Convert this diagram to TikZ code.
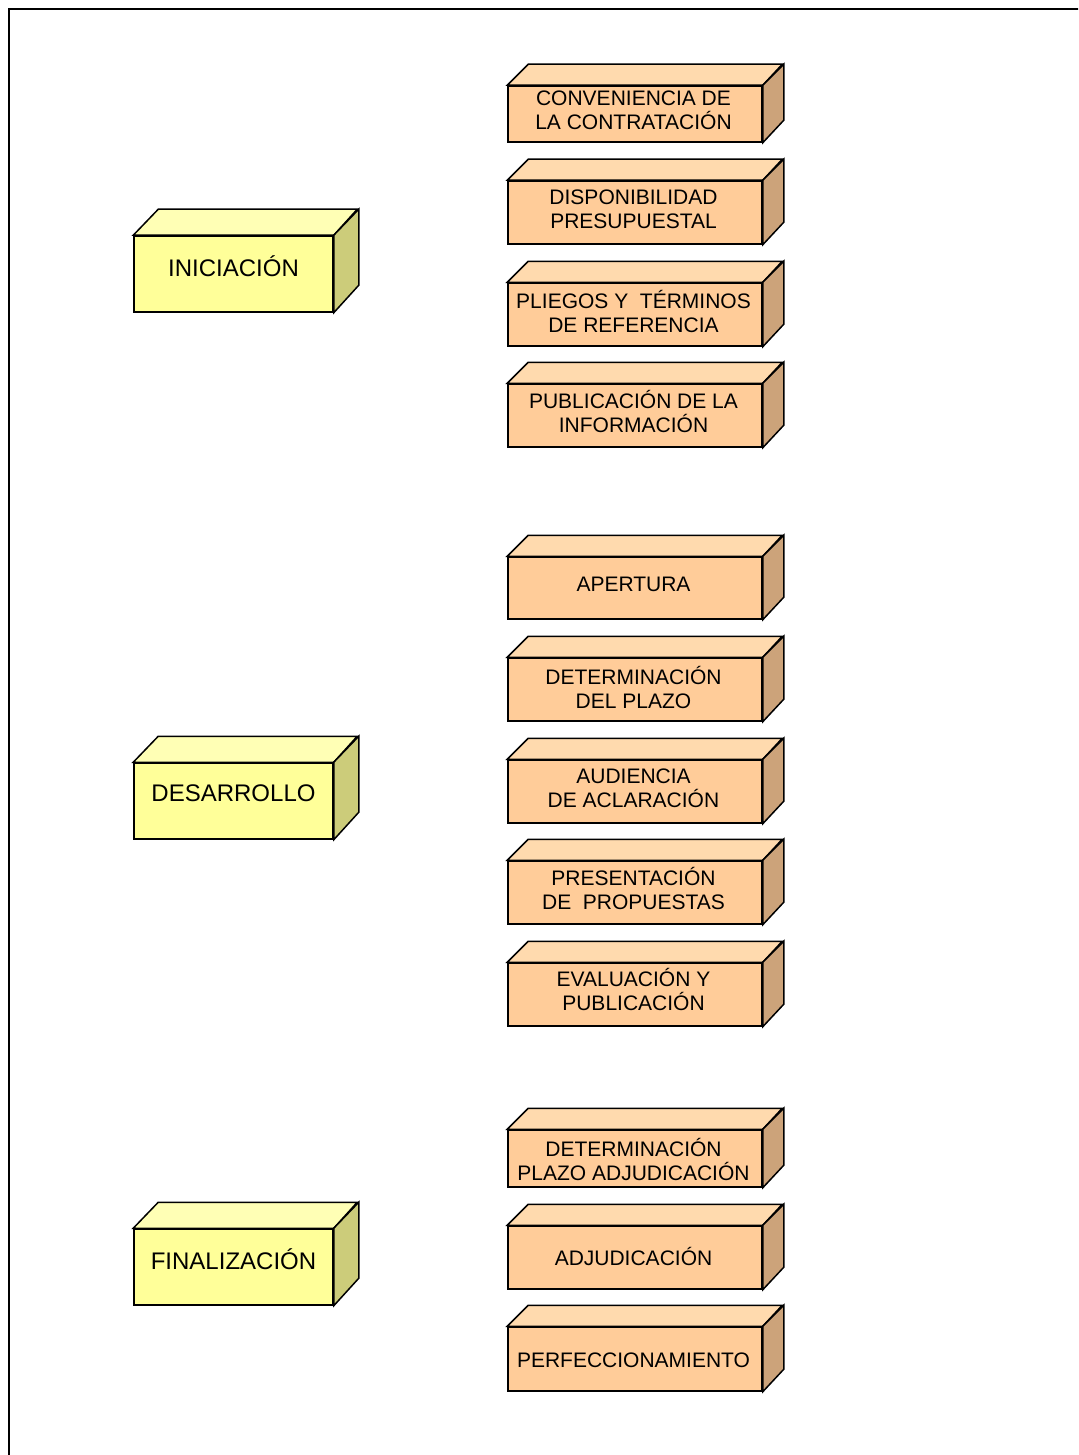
\documentclass[tikz,border=0pt]{standalone}
\usepackage{fontspec}
\setmainfont{Liberation Sans}
\definecolor{ofr}{HTML}{FFCC99}
\definecolor{otp}{HTML}{FFDAAE}
\definecolor{osd}{HTML}{CCA37A}
\definecolor{yfr}{HTML}{FFFF99}
\definecolor{ytp}{HTML}{FFFFB5}
\definecolor{ysd}{HTML}{CCCC7A}
\tikzset{
  x=1pt, y=-1pt,
  face/.style={draw, line width=1.5pt, line join=miter},
  ofront/.style={face, fill=ofr, minimum width=254pt, inner sep=0pt},
  otext/.style={inner sep=0pt, align=center, font=\fontsize{21}{24}\selectfont},
  yfront/.style={face, fill=yfr, minimum width=199pt, minimum height=76pt, inner sep=0pt},
  ytext/.style={inner sep=0pt, align=center, font=\fontsize{24}{28}\selectfont},
  frame/.style={line width=1.5pt}
}
\begin{document}
\begin{tikzpicture}
\useasboundingbox (0,0) rectangle (1078,1455);
\clip (0,0) rectangle (1078,1455);
\coordinate (fb) at (9,1470);
\coordinate (ft) at (9,9);
\coordinate (fr) at (1090,9);
\draw[frame] (fb) -- (ft) -- (fr);
% orange boxes
\foreach \nm/\ya/\yb/\dy/\txt in {
  c1/86/142/4/{CONVENIENCIA DE\\LA CONTRATACIÓN},
  c2/181/244/3/{DISPONIBILIDAD\\PRESUPUESTAL},
  c3/283/346/3/{PLIEGOS Y~~TÉRMINOS\\DE REFERENCIA},
  c4/384/447/4/{PUBLICACIÓN DE LA\\INFORMACIÓN},
  c5/557/619/4/{APERTURA},
  c6/658/721/2/{DETERMINACIÓN\\DEL PLAZO},
  c7/760/823/3/{AUDIENCIA\\DE ACLARACIÓN},
  c8/861/924/4/{PRESENTACIÓN\\DE~~PROPUESTAS},
  c9/963/1026/5/{EVALUACIÓN Y\\PUBLICACIÓN},
  c10/1130/1187/-1/{DETERMINACIÓN\\PLAZO ADJUDICACIÓN},
  c11/1226/1289/1/{ADJUDICACIÓN},
  c12/1327/1391/-1/{PERFECCIONAMIENTO}} {
  \pgfmathsetmacro\yc{(\ya+\yb)/2}
  \pgfmathsetmacro\hh{\yb-\ya}
  \node[ofront, minimum height=\hh pt] (\nm) at (635,\yc) {};
  \filldraw[face, fill=otp] (\nm.north west) -- ++(21,-21) -- ++(254,0) -- (\nm.north east) -- cycle;
  \filldraw[face, fill=osd] (\nm.north east) -- ++(21,-21) -- ++(0,\hh) -- (\nm.south east) -- cycle;
  \node[otext] (\nm-t) at ([xshift=-1.5pt, yshift=\dy pt]\nm.center) {\txt};
}
% yellow boxes
\foreach \nm/\yc/\txt in {
  ini/274/{INICIACIÓN},
  des/801/{DESARROLLO},
  fin/1267/{FINALIZACIÓN}} {
  \node[yfront] (\nm) at (233.5,\yc) {};
  \filldraw[face, fill=ytp] (\nm.north west) -- ++(25,-26) -- ++(199,0) -- (\nm.north east) -- cycle;
  \filldraw[face, fill=ysd] (\nm.north east) -- ++(25,-26) -- ++(0,76) -- (\nm.south east) -- cycle;
  \node[ytext] (\nm-t) at ([yshift=8pt]\nm.center) {\txt};
}
\end{tikzpicture}
\end{document}
